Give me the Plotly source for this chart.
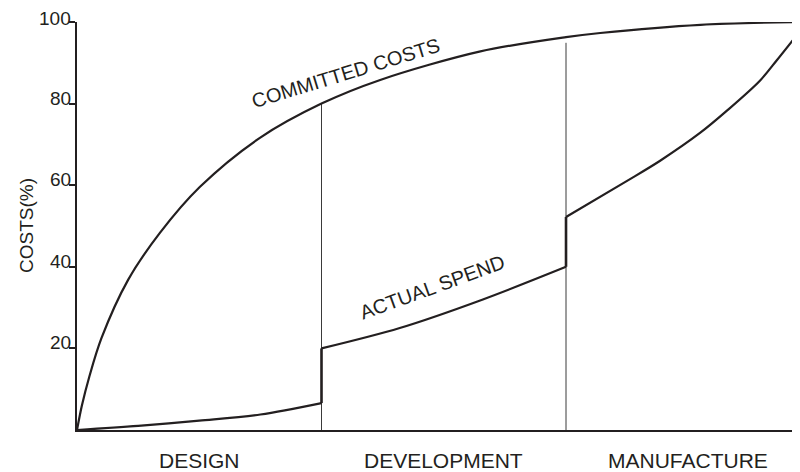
import plotly.graph_objects as go

# ---- data ----
phase_labels = ["DESIGN", "DEVELOPMENT", "MANUFACTURE"]
phase_centers = [0.5, 1.5, 2.5]
phase_bounds = [1.0, 2.0]
divider_tops = [80.0, 94.9]

committed_x = [0, 0.02, 0.05, 0.1, 0.209, 0.339, 0.503, 0.748, 1.0, 1.24, 1.65, 2.0, 2.14, 2.55, 2.96]
committed_y = [0, 6, 13, 22.5, 36.8, 48.3, 59.6, 71.6, 80, 85.8, 92.8, 96.3, 97.3, 99.3, 100]

design_x = [0, 0.25, 0.5, 0.75, 1.0]
design_y = [0, 1.0, 2.3, 3.8, 6.6]
dev_x = [1.0, 1.32, 1.66, 2.0]
dev_y = [20, 25, 32, 40]
manuf_x = [2.0, 2.248, 2.385, 2.548, 2.657, 2.793, 2.863, 2.96]
manuf_y = [52.2, 61.0, 66.0, 72.8, 78.2, 85.6, 90.7, 98.0]

y_ticks = [20, 40, 60, 80, 100]

INK = "#231f20"
FONT = "Liberation Sans, Arial, sans-serif"

fig = go.Figure()

# phase dividers
for bx, top in zip(phase_bounds, divider_tops):
    fig.add_trace(go.Scatter(x=[bx, bx], y=[0, top], mode="lines",
                             line=dict(color="#3a3a3a", width=1), hoverinfo="skip"))

# committed costs
fig.add_trace(go.Scatter(x=committed_x, y=committed_y, mode="lines",
                         line=dict(color=INK, width=2.2, shape="spline", smoothing=0.9)))

# actual spend segments
for xs, ys in [(design_x, design_y), (dev_x, dev_y), (manuf_x, manuf_y)]:
    fig.add_trace(go.Scatter(x=xs, y=ys, mode="lines",
                             line=dict(color=INK, width=2.2, shape="spline", smoothing=0.9)))
# jumps
fig.add_trace(go.Scatter(x=[design_x[-1], dev_x[0]], y=[design_y[-1], dev_y[0]], mode="lines",
                         line=dict(color=INK, width=2.6)))
fig.add_trace(go.Scatter(x=[dev_x[-1], manuf_x[0]], y=[dev_y[-1], manuf_y[0]], mode="lines",
                         line=dict(color=INK, width=2.6)))

annotations = []
for t in y_ticks:
    annotations.append(dict(x=0, xref="paper", y=t, yref="y", text=str(t), showarrow=False,
                            xanchor="right", yanchor="bottom", xshift=-5,
                            yshift=-8 if t == 100 else -6, borderpad=0,
                            font=dict(family=FONT, size=19, color=INK)))
for lab, cx in zip(phase_labels, phase_centers):
    annotations.append(dict(x=cx, xref="x", y=0, yref="paper", text=lab, showarrow=False,
                            xanchor="center", yanchor="top", yshift=-18, borderpad=0,
                            font=dict(family=FONT, size=21, color=INK)))
annotations.append(dict(x=0, xref="paper", xshift=-51, y=50, yref="y", text="COSTS(%)",
                        showarrow=False, textangle=-90, xanchor="center", yanchor="middle",
                        font=dict(family=FONT, size=19, color=INK)))
annotations.append(dict(x=1.1, xref="x", y=87.5, yref="y", text="COMMITTED COSTS", showarrow=False,
                        textangle=-17, font=dict(family=FONT, size=20, color=INK)))
annotations.append(dict(x=1.455, xref="x", y=35.0, yref="y", text="ACTUAL SPEND", showarrow=False,
                        textangle=-20, font=dict(family=FONT, size=20, color=INK)))

# the page body has an 8px margin, so the figure is 8px smaller on each axis
fig.update_layout(
    width=792, height=464,
    margin=dict(l=69, r=0, t=14, b=42),
    paper_bgcolor="white", plot_bgcolor="white",
    showlegend=False,
    annotations=annotations,
    xaxis=dict(range=[0, 2.957], showgrid=False, zeroline=False, showline=True,
               linecolor=INK, linewidth=2, ticks="", showticklabels=False, fixedrange=True),
    yaxis=dict(range=[0, 100], showgrid=False, zeroline=False, showline=True,
               linecolor=INK, linewidth=2, ticks="outside", ticklen=6, tickwidth=1.5,
               tickcolor=INK, tickvals=y_ticks, showticklabels=False, fixedrange=True),
)

fig.write_html("out.html")
